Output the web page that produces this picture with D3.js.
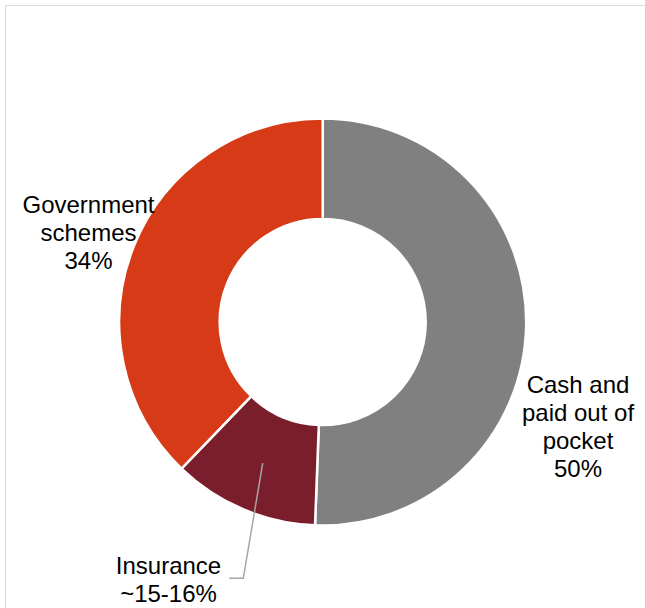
<!DOCTYPE html>
<html>
<head>
<meta charset="UTF-8">
<script src="https://cdn.jsdelivr.net/npm/d3@7"></script>
<style>
  body { margin: 0; background: #fff; }
  text { font-family: "Liberation Sans", Arial, sans-serif; font-size: 24px; fill: #000; }
</style>
</head>
<body>
<svg id="chart" width="645" height="608"></svg>
<script>
// data (slice sizes as drawn, labels as printed)
const categories = ["Cash and paid out of pocket", "Insurance", "Government schemes"];
const values = [50.6, 11.6, 37.8];
const labelLines = [
  ["Cash and", "paid out of", "pocket", "50%"],
  ["Insurance", "~15-16%"],
  ["Government", "schemes", "34%"]
];
const colors = ["#808080", "#7b1e2b", "#d63a17"];

const svg = d3.select("#chart");

// plot frame, cut off at right and bottom
svg.append("rect")
  .attr("x", 5.5).attr("y", 5.5)
  .attr("width", 660).attr("height", 640)
  .attr("fill", "none")
  .attr("stroke", "#dcdcdc")
  .attr("stroke-width", 1.2);

const cx = 322.7, cy = 322, outerR = 203.5, innerR = 103;

const pie = d3.pie().sort(null).value(d => d);
const arc = d3.arc().innerRadius(innerR).outerRadius(outerR);
const arcs = pie(values);

const g = svg.append("g").attr("transform", `translate(${cx},${cy})`);

g.selectAll("path")
  .data(arcs)
  .enter().append("path")
  .attr("d", arc)
  .attr("fill", (d, i) => colors[i])
  .attr("stroke", "#fff")
  .attr("stroke-width", 2.5);

// label anchors (centre x, first baseline), relative to the svg
const labelPos = [[578, 393], [168.5, 573.5], [88.5, 212.5]];
const lineH = 28;

labelLines.forEach((lines, i) => {
  const t = svg.append("text").attr("text-anchor", "middle");
  lines.forEach((s, j) => {
    t.append("tspan")
      .attr("x", labelPos[i][0])
      .attr("y", labelPos[i][1] + j * lineH)
      .text(s);
  });
});

// leader line for insurance
const c = arc.centroid(arcs[1]);
const bend = [243.3, 578.3];
svg.append("polyline")
  .attr("points", [[cx + c[0], cy + c[1]], bend, [229.3, 578.3]].map(p => p.join(",")).join(" "))
  .attr("fill", "none")
  .attr("stroke", "#a6a6a6")
  .attr("stroke-width", 1.5);
</script>
</body>
</html>
